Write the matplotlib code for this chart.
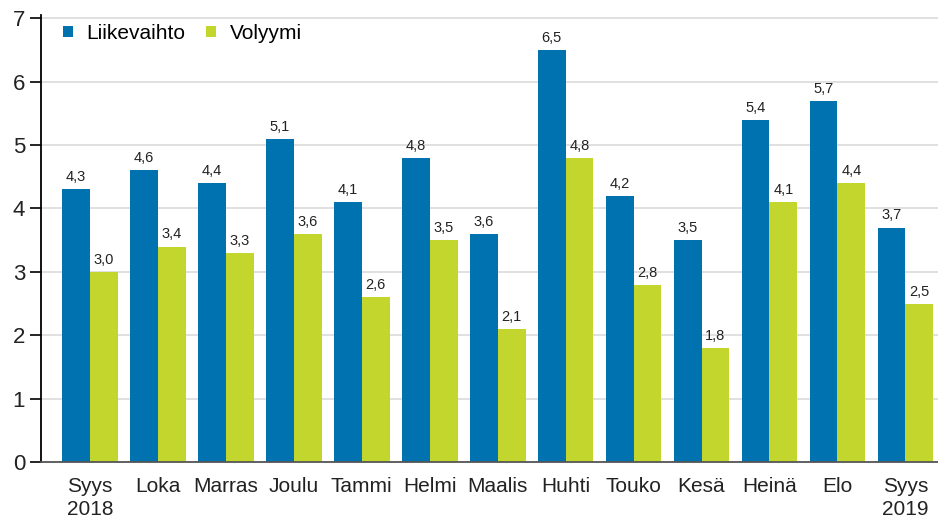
import numpy as np
import matplotlib
matplotlib.use("Agg")
import matplotlib.pyplot as plt

months = ["Syys\n2018", "Loka", "Marras", "Joulu", "Tammi", "Helmi", "Maalis",
          "Huhti", "Touko", "Kesä", "Heinä", "Elo", "Syys\n2019"]
liikevaihto = [4.3, 4.6, 4.4, 5.1, 4.1, 4.8, 3.6, 6.5, 4.2, 3.5, 5.4, 5.7, 3.7]
volyymi = [3.0, 3.4, 3.3, 3.6, 2.6, 3.5, 2.1, 4.8, 2.8, 1.8, 4.1, 4.4, 2.5]

BLUE = "#0072b0"
GREEN = "#c2d62e"

plt.rcParams["font.family"] = ["Liberation Sans", "DejaVu Sans"]

fig = plt.figure(figsize=(9.38, 5.21), dpi=100)
ax = fig.add_axes([0.0437, 0.113, 0.9563, 0.858])

x = np.arange(len(months))
w = 0.41
b1 = ax.bar(x - w / 2, liikevaihto, w, color=BLUE, label="Liikevaihto", zorder=3)
b2 = ax.bar(x + w / 2, volyymi, w, color=GREEN, label="Volyymi", zorder=3)

for bars, vals in ((b1, liikevaihto), (b2, volyymi)):
    for rect, v in zip(bars, vals):
        ax.text(rect.get_x() + rect.get_width() / 2, v + 0.08,
                f"{v:.1f}".replace(".", ","), ha="center", va="bottom",
                fontsize=10.5, color="#222222")

ax.set_xlim(-0.72, 12.48)
ax.set_ylim(0, 7.05)
ax.set_yticks(range(8))
ax.set_xticks(x)
ax.set_xticklabels(months, fontsize=15, linespacing=1.25, color="#222222")
ax.tick_params(axis="y", labelsize=16, length=8, width=1.2, pad=3.5,
               labelcolor="#222222")
ax.tick_params(axis="x", length=0, pad=11)

ax.grid(axis="y", color="#dddddd", linewidth=1.3, zorder=0)
for s in ("top", "right"):
    ax.spines[s].set_visible(False)
ax.spines["left"].set_linewidth(1.3)
ax.spines["bottom"].set_color("#555555")
ax.spines["bottom"].set_linewidth(1.3)
ax.spines["bottom"].set_zorder(4)

ax.legend(loc="upper left", bbox_to_anchor=(63 / 938, 1 - 24 / 521),
          bbox_transform=fig.transFigure, ncol=2, frameon=False,
          fontsize=15, handlelength=0.47, handleheight=0.47,
          columnspacing=1.0, handletextpad=0.65, borderpad=0, borderaxespad=0)

fig.savefig("out.png", dpi=100)
